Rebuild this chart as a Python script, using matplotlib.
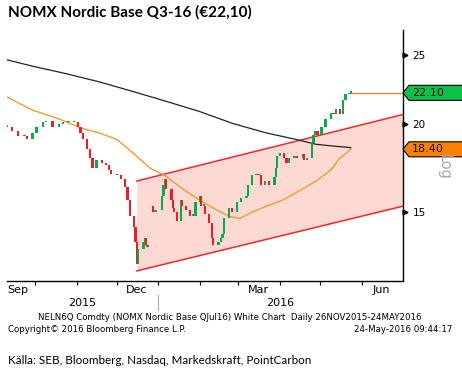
import numpy as np
import pandas as pd
import matplotlib
matplotlib.use("Agg")
import matplotlib.pyplot as plt
from matplotlib.patches import Polygon
import matplotlib.transforms as mtrans

# daily closes
dates = ["2015-09-10", "2015-09-14", "2015-09-18", "2015-09-23", "2015-09-25", "2015-09-29",
         "2015-10-02", "2015-10-07", "2015-10-09", "2015-10-14", "2015-10-19", "2015-10-22",
         "2015-10-26", "2015-10-30", "2015-11-02", "2015-11-04", "2015-11-06", "2015-11-09",
         "2015-11-11", "2015-11-13", "2015-11-16", "2015-11-20", "2015-11-23", "2015-11-25",
         "2015-11-27", "2015-12-01", "2015-12-04", "2015-12-07", "2015-12-09", "2015-12-11",
         "2015-12-14", "2015-12-15", "2015-12-16", "2015-12-17", "2015-12-21", "2015-12-22",
         "2015-12-23", "2015-12-24", "2015-12-28", "2015-12-30", "2016-01-04", "2016-01-05",
         "2016-01-06", "2016-01-07", "2016-01-11", "2016-01-12", "2016-01-13", "2016-01-15",
         "2016-01-18", "2016-01-19", "2016-01-22", "2016-01-25", "2016-01-27", "2016-01-29",
         "2016-02-01", "2016-02-02", "2016-02-04", "2016-02-05", "2016-02-08", "2016-02-10",
         "2016-02-11", "2016-02-15", "2016-02-17", "2016-02-18", "2016-02-19", "2016-02-23",
         "2016-02-25", "2016-02-29", "2016-03-03", "2016-03-07", "2016-03-08", "2016-03-11",
         "2016-03-14", "2016-03-16", "2016-03-18", "2016-03-21", "2016-03-24", "2016-03-28",
         "2016-03-29", "2016-03-30", "2016-04-01", "2016-04-04", "2016-04-06", "2016-04-08",
         "2016-04-12", "2016-04-14", "2016-04-18", "2016-04-19", "2016-04-21", "2016-04-25",
         "2016-04-26", "2016-04-27", "2016-04-29", "2016-05-02", "2016-05-05", "2016-05-09",
         "2016-05-11", "2016-05-13", "2016-05-16", "2016-05-18", "2016-05-20", "2016-05-23",
         "2016-05-24"]
closes = [19.8, 19.5, 19.2, 19.2, 19.0, 19.4,
          19.8, 20.1, 20.2, 19.8, 20.0, 20.1,
          20.1, 20.1, 19.8, 19.4, 19.0, 18.4,
          17.9, 17.3, 17.8, 17.6, 17.5, 17.2,
          17.0, 16.9, 16.7, 16.3, 15.6, 14.8,
          14.3, 13.6, 12.7, 13.3, 13.6, 13.8,
          13.5, 13.4, 15.0, 15.1, 15.8, 16.4,
          16.7, 16.2, 15.6, 15.2, 15.0, 14.6,
          15.6, 15.3, 15.1, 14.8, 14.8, 15.5,
          15.8, 15.3, 15.3, 14.9, 14.5, 13.8,
          13.5, 13.6, 13.8, 14.0, 14.7, 15.2,
          15.0, 15.5, 15.7, 15.8, 16.4, 16.9,
          17.0, 16.9, 16.4, 16.6, 16.4, 16.8,
          17.3, 18.0, 18.2, 17.9, 17.6, 17.9,
          18.0, 17.9, 18.1, 17.8, 17.9, 18.8,
          19.3, 19.5, 19.3, 19.8, 20.3, 20.7,
          20.6, 21.0, 20.6, 21.6, 22.0, 22.1,
          22.1]
# opening gap after the Christmas break
gap_opens = {"2015-12-28": 15.3}

# 200-day (black) and 50-day (orange) moving averages
ma200_dates = ["2015-09-10", "2015-09-29", "2015-10-25", "2015-11-18", "2015-12-13", "2016-01-07",
               "2016-02-01", "2016-02-26", "2016-03-22", "2016-04-13", "2016-04-28", "2016-05-10",
               "2016-05-24"]
ma200 = [24.6, 24.1, 23.5, 22.9, 22.2, 21.5, 20.8, 20.0, 19.4, 19.0, 18.7, 18.6, 18.5]
ma50_dates = ["2015-09-10", "2015-09-29", "2015-10-19", "2015-11-05", "2015-11-18", "2015-12-01",
              "2015-12-13", "2015-12-26", "2016-01-06", "2016-01-19", "2016-02-01", "2016-02-14",
              "2016-02-23", "2016-03-02", "2016-03-11", "2016-03-22", "2016-04-03", "2016-04-16",
              "2016-04-28", "2016-05-09", "2016-05-16", "2016-05-21", "2016-05-24"]
ma50 = [21.8, 20.9, 20.3, 19.7, 19.4, 19.0, 18.2, 17.3, 16.9, 16.2, 15.6, 15.1,
        14.8, 14.7, 15.0, 15.3, 15.6, 16.1, 16.6, 17.2, 17.9, 18.2, 18.4]

# trend channel
chan_dates = ["2015-12-16", "2016-07-02"]
chan_upper = [16.6, 20.6]
chan_lower = [12.4, 15.3]

last_price = 22.10
last_ma = 18.40

W, H = 462, 373
fig = plt.figure(figsize=(W / 100, H / 100), dpi=100)
ax = fig.add_axes([7 / W, 1 - 281 / H, (403 - 7) / W, (281 - 30) / H])

d = pd.to_datetime(dates)
c = np.array(closes)
o = np.r_[c[0], c[:-1]]
for k, v in gap_opens.items():
    o[dates.index(k)] = v
up = c >= o
red, green = "#f01c24", "#0aa84a"
lo = np.minimum(o, c)
hi = np.maximum(o, c)
hi = np.where(hi - lo < 0.1, lo + 0.1, hi)
ax.bar(d, hi - lo, bottom=lo, width=1.7, color=np.where(up, green, red), zorder=4)

cd = pd.to_datetime(chan_dates)
ax.fill_between(cd, chan_lower, chan_upper, color="#fdd9d3", zorder=1, lw=0)
ax.plot(cd, chan_upper, color="#f5262a", lw=1.1, zorder=2)
ax.plot(cd, chan_lower, color="#f5262a", lw=1.1, zorder=2)

ax.plot(pd.to_datetime(ma200_dates), ma200, color="#222222", lw=0.9, zorder=3)
ax.plot(pd.to_datetime(ma50_dates), ma50, color="#f7941d", lw=0.9, zorder=3)
ax.plot([d[-1], pd.Timestamp("2016-07-02")], [last_price, last_price],
        color="#f57f17", lw=0.9, zorder=3)

ax.set_yscale("log")
ax.set_ylim(12.0, 27.1)
ax.set_xlim(pd.Timestamp("2015-09-10"), pd.Timestamp("2016-07-02"))

for s in ["left", "top"]:
    ax.spines[s].set_visible(False)
for s in ["right", "bottom"]:
    ax.spines[s].set_color("black")
    ax.spines[s].set_linewidth(1.0)

ax.yaxis.tick_right()
ax.yaxis.set_major_locator(matplotlib.ticker.FixedLocator([15, 20, 25]))
ax.yaxis.set_minor_locator(matplotlib.ticker.NullLocator())
ax.yaxis.set_major_formatter(matplotlib.ticker.FuncFormatter(lambda v, p: "%d" % v))
ax.tick_params(axis="y", length=0, pad=7, labelsize=7.5, labelcolor="black")
tr = mtrans.blended_transform_factory(ax.transAxes, ax.transData)
ax.plot([1.004] * 3, [15, 20, 25], ls="none", marker=">", ms=3.5, color="black",
        transform=tr, clip_on=False, zorder=6)

months = pd.date_range("2015-10-01", "2016-06-01", freq="MS")
ax.set_xticks(months)
ax.set_xticklabels([])
ax.tick_params(axis="x", length=3, width=0.8, direction="out")

tx = mtrans.blended_transform_factory(ax.transData, fig.transFigure)
def fy(y):
    return 1 - y / H
fig.text(7 / W, fy(290), "Sep", fontsize=8, ha="left", va="center")
for lab, dd in [("Dec", "2015-12-16"), ("Mar", "2016-03-16"), ("Jun", "2016-06-16")]:
    ax.text(pd.Timestamp(dd), fy(290), lab, fontsize=8, ha="center", va="center", transform=tx)
fig.text(82 / W, fy(303), "2015", fontsize=8, ha="center", va="center")
fig.text(280 / W, fy(303), "2016", fontsize=8, ha="center", va="center")
ax.plot([pd.Timestamp("2016-01-01")] * 2, [fy(295), fy(310)], color="#aaaaaa", lw=0.8,
        transform=tx, clip_on=False)

# price tags on the right axis
fig.canvas.draw()
def tag(val, fc, txt):
    yc = ax.transData.transform((0, val))[1]
    x0 = 403
    pts = [(x0, yc), (x0 + 6, yc + 7.5), (W + 5, yc + 7.5), (W + 5, yc - 7.5), (x0 + 6, yc - 7.5)]
    fig.patches.append(Polygon(pts, closed=True, facecolor=fc, edgecolor="black", lw=0.8,
                               transform=None, zorder=5))
    fig.text(412 / W, yc / H, txt, fontsize=8, ha="left", va="center", color="#111111", zorder=6)

tag(last_price, "#0cc04a", "22.10")
tag(last_ma, "#ff8000", "18.40")
fig.text(444 / W, fy(167), "Log", fontsize=10.5, rotation=-90, ha="center", va="center",
         color="#a8a8a8", zorder=7)

fig.text(8 / W, fy(12), "NOMX Nordic Base Q3-16 (€22,10)", fontsize=11, fontweight="bold",
         family="Lato", ha="left", va="center")
fig.text(230 / W, fy(318), "NELN6Q Comdty (NOMX Nordic Base QJul16) White Chart  Daily 26NOV2015-24MAY2016",
         fontsize=6.2, ha="center", va="center")
fig.text(8 / W, fy(329), "Copyright© 2016 Bloomberg Finance L.P.", fontsize=6.2, ha="left", va="center")
fig.text(452 / W, fy(329), "24-May-2016 09:44:17", fontsize=6.2, ha="right", va="center")
fig.text(8 / W, fy(361), "Källa: SEB, Bloomberg, Nasdaq, Markedskraft, PointCarbon", fontsize=8.4,
         family="Lato", ha="left", va="center")

fig.savefig("out.png", dpi=100)
